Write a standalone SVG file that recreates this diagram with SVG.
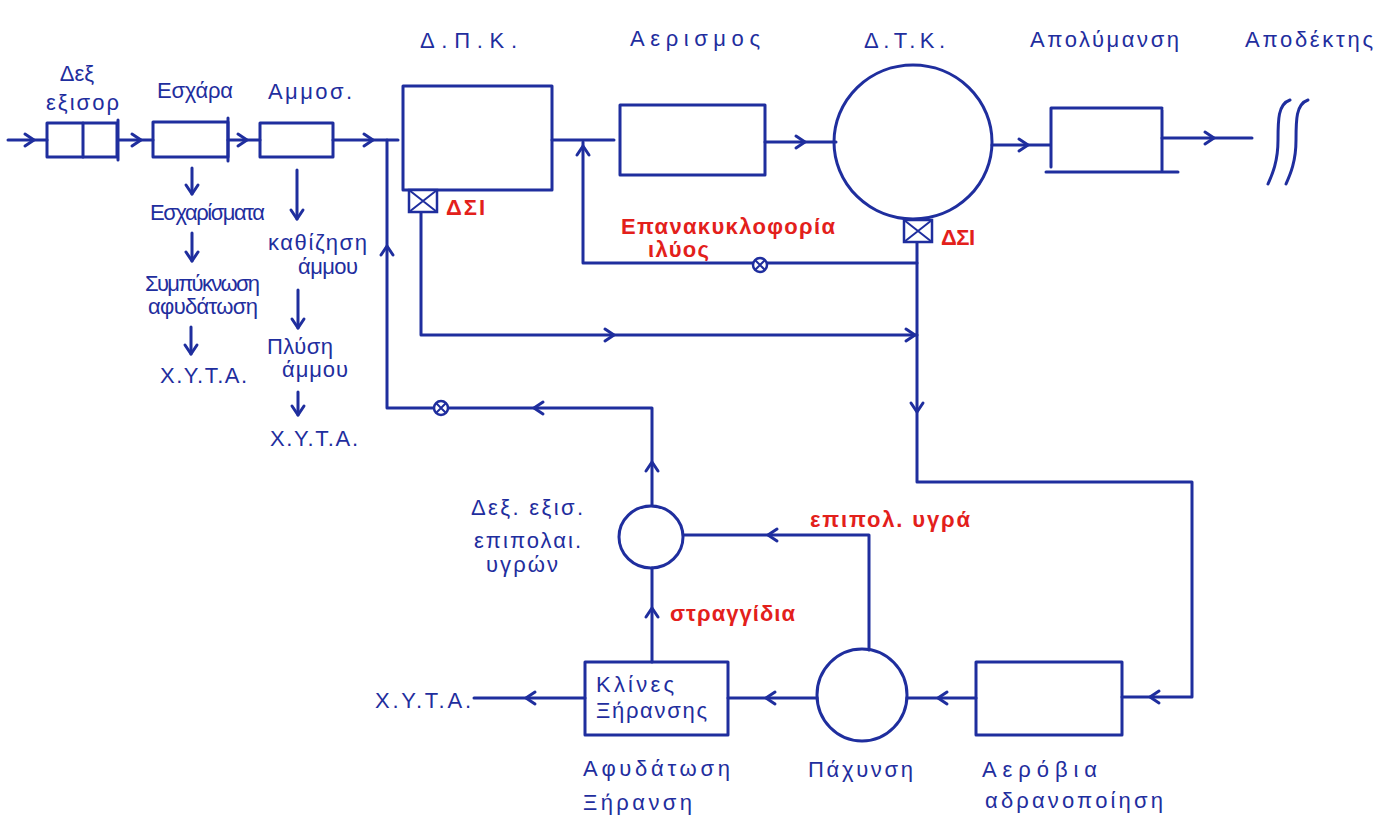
<svg xmlns="http://www.w3.org/2000/svg" width="1378" height="821" viewBox="0 0 1378 821">
<style>
.s{fill:none;stroke:#1f2e9e;stroke-width:3;stroke-linecap:round;stroke-linejoin:round}
.b{fill:none;stroke:#1f2e9e;stroke-width:3;stroke-linejoin:round}
.t{font-family:"Liberation Sans","DejaVu Sans",sans-serif;fill:#1f2e9e;font-size:22px}
.r{font-family:"Liberation Sans","DejaVu Sans",sans-serif;fill:#e3201b;font-size:22px;font-weight:bold}
</style>
<defs>
<path id="ch" d="M-9,-6 L0,0 L-9,6" class="s"/>
<g id="valve"><circle r="7" fill="#fff" stroke="#1f2e9e" stroke-width="2.5"/><path d="M-5,-5 L5,5 M-5,5 L5,-5" stroke="#1f2e9e" stroke-width="2"/></g>
<g id="xbox"><rect x="0" y="0" width="28" height="22" fill="#fff" stroke="#1f2e9e" stroke-width="2.5"/><path d="M0,0 L28,22 M0,22 L28,0" stroke="#1f2e9e" stroke-width="2"/></g>
</defs>
<rect width="1378" height="821" fill="#fff"/>

<g id="connectors">
  <path class="s" d="M8,140 H47"/><use href="#ch" transform="translate(34,140)"/>
  <path class="s" d="M118,140 H153"/><use href="#ch" transform="translate(141,140)"/>
  <path class="s" d="M228,140 H260"/><use href="#ch" transform="translate(247,140)"/>
  <path class="s" d="M333,140 H398"/><use href="#ch" transform="translate(373,140)"/>
  <path class="s" d="M552,140 H614"/>
  <path class="s" d="M765,142 H836"/><use href="#ch" transform="translate(805,142)"/>
  <path class="s" d="M992,145 H1050"/><use href="#ch" transform="translate(1028,145)"/>
  <path class="s" d="M1162,138 H1252"/><use href="#ch" transform="translate(1214,138)"/>
  <path class="s" d="M192,168 V194"/><use href="#ch" transform="translate(192,194) rotate(90)"/>
  <path class="s" d="M192,233 V261"/><use href="#ch" transform="translate(192,261) rotate(90)"/>
  <path class="s" d="M191,327 V354"/><use href="#ch" transform="translate(191,354) rotate(90)"/>
  <path class="s" d="M297,170 V219"/><use href="#ch" transform="translate(297,219) rotate(90)"/>
  <path class="s" d="M298,290 V328"/><use href="#ch" transform="translate(298,328) rotate(90)"/>
  <path class="s" d="M298,392 V415"/><use href="#ch" transform="translate(298,415) rotate(90)"/>
  <path class="s" d="M652,505 V408 H387 V140"/>
  <use href="#ch" transform="translate(652,462) rotate(-90)"/>
  <use href="#ch" transform="translate(534,408) rotate(180)"/>
  <use href="#ch" transform="translate(387,246) rotate(-90)"/>
  <use href="#valve" transform="translate(441,408)"/>
  <path class="s" d="M917,263 H583 V142"/>
  <use href="#ch" transform="translate(583,146) rotate(-90)"/>
  <use href="#valve" transform="translate(760,265)"/>
  <path class="s" d="M917,242 V482 H1192 V697 H1122"/>
  <use href="#ch" transform="translate(917,412) rotate(90)"/>
  <use href="#ch" transform="translate(1150,697) rotate(180)"/>
  <path class="s" d="M421,213 V335 H917"/>
  <use href="#ch" transform="translate(614,335)"/>
  <use href="#ch" transform="translate(915,335)"/>
  <path class="s" d="M976,698 H907"/><use href="#ch" transform="translate(938,698) rotate(180)"/>
  <path class="s" d="M817,698 H728"/><use href="#ch" transform="translate(766,698) rotate(180)"/>
  <path class="s" d="M585,698 H474"/><use href="#ch" transform="translate(526,698) rotate(180)"/>
  <path class="s" d="M652,662 V568"/><use href="#ch" transform="translate(652,608) rotate(-90)"/>
  <path class="s" d="M869,650 V535 H684"/><use href="#ch" transform="translate(768,535) rotate(180)"/>
</g>

<g id="node-dexamenh-exisorropisis">
  <rect class="b" x="47" y="123" width="70" height="34"/>
  <path class="s" d="M83,123 V157 M118,120 V160"/>
  <text class="t" x="77" y="81" font-size="24" text-anchor="middle">Δεξ</text>
  <text class="t" x="46" y="110" font-size="22" textLength="73">εξισορ</text>
</g>
<g id="node-eschara">
  <rect class="b" x="153" y="122" width="75" height="35"/>
  <path class="s" d="M228,118 V161"/>
  <text class="t" x="157" y="98" font-size="24" textLength="76">Εσχάρα</text>
  <text class="t" x="150" y="220" font-size="17" textLength="115">Εσχαρίσματα</text>
  <text class="t" x="145" y="291" font-size="17" textLength="115">Συμπύκνωση</text>
  <text class="t" x="148" y="314" font-size="17" textLength="110">αφυδάτωση</text>
  <text class="t" x="160" y="383" font-size="21" textLength="87">Χ.Υ.Τ.Α.</text>
</g>
<g id="node-ammosyllektis">
  <rect class="b" x="260" y="123" width="73" height="34"/>
  <text class="t" x="268" y="99" font-size="24" textLength="84">Αμμοσ.</text>
  <text class="t" x="268" y="250" font-size="20" textLength="99">καθίζηση</text>
  <text class="t" x="298" y="274" font-size="20" textLength="60">άμμου</text>
  <text class="t" x="267" y="354" font-size="20" textLength="66">Πλύση</text>
  <text class="t" x="282" y="377" font-size="20" textLength="66">άμμου</text>
  <text class="t" x="270" y="446" font-size="21" textLength="88">Χ.Υ.Τ.Α.</text>
</g>
<g id="node-dpk">
  <rect class="b" x="403" y="86" width="149" height="104"/>
  <use href="#xbox" transform="translate(409,190)"/>
  <text class="r" x="446" y="215" font-size="20" textLength="39">ΔΣΙ</text>
  <text class="t" x="420" y="48" font-size="25" textLength="97">Δ.Π.Κ.</text>
</g>
<g id="node-aerismos">
  <rect class="b" x="620" y="105" width="145" height="70"/>
  <text class="t" x="630" y="46" font-size="26" textLength="130">Αερισμος</text>
</g>
<g id="node-dtk">
  <ellipse class="b" cx="913" cy="142" rx="79" ry="77"/>
  <use href="#xbox" transform="translate(904,220)"/>
  <text class="r" x="941" y="245" font-size="20" textLength="34">ΔΣΙ</text>
  <text class="t" x="864" y="48" font-size="25" textLength="81">Δ.Τ.Κ.</text>
  <text class="r" x="621" y="234" font-size="21" textLength="214">Επανακυκλοφορία</text>
  <text class="r" x="648" y="257" font-size="21" textLength="61">ιλύος</text>
</g>
<g id="node-apolymansi">
  <path class="s" d="M1051,108 H1162 M1051,108 V167 M1162,110 V170 M1046,172 H1178"/>
  <text class="t" x="1030" y="47" font-size="25" textLength="149">Απολύμανση</text>
</g>
<g id="node-apodektis">
  <path class="s" d="M1290,100 C1278,104 1278,120 1278,140 C1278,162 1272,175 1268,184"/>
  <path class="s" d="M1308,100 C1296,104 1296,120 1296,140 C1296,162 1290,175 1286,184"/>
  <text class="t" x="1245" y="47" font-size="25" textLength="128">Αποδέκτης</text>
</g>
<g id="node-dex-epipolaion">
  <ellipse class="b" cx="651" cy="537" rx="32" ry="31"/>
  <text class="t" x="471" y="515" font-size="21" textLength="112">Δεξ. εξισ.</text>
  <text class="t" x="474" y="548" font-size="21" textLength="107">επιπολαι.</text>
  <text class="t" x="486" y="572" font-size="21" textLength="72">υγρών</text>
  <text class="r" x="810" y="527" font-size="23" textLength="160">επιπολ. υγρά</text>
  <text class="r" x="670" y="621" font-size="23" textLength="125">στραγγίδια</text>
</g>
<g id="node-klines">
  <rect class="b" x="585" y="662" width="143" height="73"/>
  <text class="t" x="596" y="692" font-size="21" textLength="78">Κλίνες</text>
  <text class="t" x="596" y="718" font-size="21" textLength="111">Ξήρανσης</text>
  <text class="t" x="583" y="776" font-size="23" textLength="147">Αφυδάτωση</text>
  <text class="t" x="583" y="810" font-size="23" textLength="109">Ξήρανση</text>
  <text class="t" x="375" y="708" font-size="23" textLength="96">Χ.Υ.Τ.Α.</text>
</g>
<g id="node-pachynsi">
  <ellipse class="b" cx="862" cy="695" rx="45" ry="46"/>
  <text class="t" x="808" y="777" font-size="23" textLength="105">Πάχυνση</text>
</g>
<g id="node-aerobia">
  <rect class="b" x="976" y="662" width="146" height="73"/>
  <text class="t" x="982" y="777" font-size="23" textLength="115">Αερόβια</text>
  <text class="t" x="985" y="808" font-size="23" textLength="178">αδρανοποίηση</text>
</g>
</svg>
